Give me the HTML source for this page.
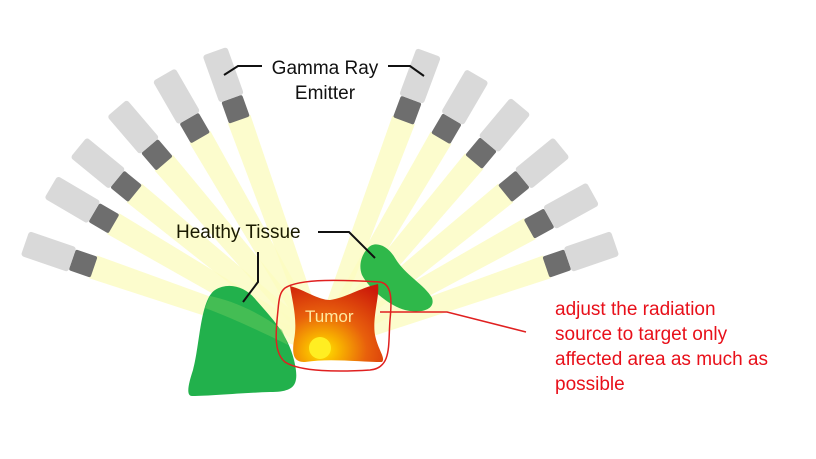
<!DOCTYPE html>
<html><head><meta charset="utf-8"><style>
html,body{margin:0;padding:0;background:#fff;width:816px;height:459px;overflow:hidden}
text{font-family:"Liberation Sans",sans-serif}
</style></head><body>
<svg width="816" height="459" viewBox="0 0 816 459" xmlns="http://www.w3.org/2000/svg">
<defs>
<g id="em">
<polygon points="-12,-240 12,-240 8,0 -8,0" fill="#fbfbc0" opacity="0.8"/>
<rect x="-11" y="-262" width="22" height="23" rx="2" fill="#6e6e6e"/>
<rect x="-13" y="-312" width="26" height="50" rx="3" fill="#d9d9d9"/>
</g>
<radialGradient id="tg" cx="0.35" cy="0.85" r="0.95">
<stop offset="0" stop-color="#ffe600"/><stop offset="0.2" stop-color="#f8b000"/><stop offset="0.5" stop-color="#e8600c"/><stop offset="1" stop-color="#cc1a0a"/>
</radialGradient>
</defs>
<g transform="translate(320,345)">
<use href="#em" transform="rotate(-19.7)"/>
<use href="#em" transform="rotate(-30)"/>
<use href="#em" transform="rotate(-40.6)"/>
<use href="#em" transform="rotate(-50.7)"/>
<use href="#em" transform="rotate(-59.6)"/>
<use href="#em" transform="rotate(-71)"/>
<use href="#em" transform="rotate(20.4)"/>
<use href="#em" transform="rotate(30.3)"/>
<use href="#em" transform="rotate(40)"/>
<use href="#em" transform="rotate(50.7)"/>
<use href="#em" transform="rotate(61)"/>
<use href="#em" transform="rotate(71)"/>
</g>
<path d="M215,290 C228,282 245,286 256,300 C272,318 288,335 294,360 C300,385 295,392 270,392 C240,393 210,396 192,396 C186,396 188,385 193,370 C200,345 200,300 215,290 Z" fill="#22b14c"/>
<path d="M210,296 C230,300 260,312 282,330 L288,345 C262,332 232,318 205,308 Z" fill="#5cc55a" opacity="0.6"/>
<path d="M368,248 C375,240 388,246 395,258 C405,275 425,285 432,298 C436,310 420,314 405,310 C390,306 370,290 362,275 C358,265 362,254 368,248 Z" fill="#2fb84a"/>
<path d="M290,286 C305,290 318,300 330,300 C345,298 360,288 378,284 C380,295 372,318 375,335 C378,350 386,358 382,362 C360,362 330,358 305,362 C296,362 291,358 294,340 C298,320 292,300 290,286 Z" fill="url(#tg)"/>
<circle cx="320" cy="348" r="11" fill="#ffee22"/>
<text x="305" y="322" font-size="17" fill="#ffe9a0">Tumor</text>
<path d="M285,288 C300,278 345,280 380,282 C392,284 392,300 390,320 C388,345 392,368 370,370 C340,372 300,372 285,362 C273,352 276,330 278,310 C279,298 280,292 285,288 Z" fill="none" stroke="#e02020" stroke-width="1.5"/>
<polyline points="380,312 447,312 526,332" fill="none" stroke="#e02020" stroke-width="1.5"/>
<polyline points="224,75 238,66 262,66" fill="none" stroke="#111" stroke-width="2"/>
<polyline points="388,66 410,66 424,76" fill="none" stroke="#111" stroke-width="2"/>
<text x="325" y="74" font-size="19" text-anchor="middle" fill="#111">Gamma Ray</text>
<text x="325" y="99" font-size="19" text-anchor="middle" fill="#111">Emitter</text>
<text x="176" y="238" font-size="19" fill="#1a1a00">Healthy Tissue</text>
<polyline points="318,232 349,232 375,258" fill="none" stroke="#111" stroke-width="2"/>
<polyline points="258,252 258,282 243,302" fill="none" stroke="#111" stroke-width="2"/>
<g font-size="19" fill="#e8101a">
<text x="555" y="315">adjust the radiation</text>
<text x="555" y="340">source to target only</text>
<text x="555" y="365">affected area as much as</text>
<text x="555" y="390">possible</text>
</g>
</svg>
</body></html>
